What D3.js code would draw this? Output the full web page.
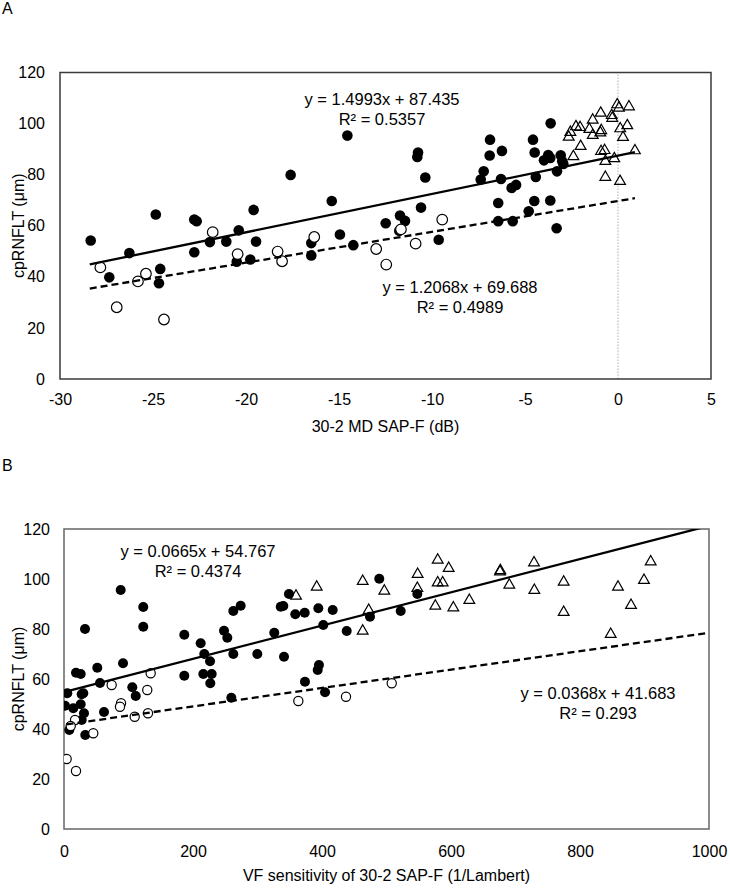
<!DOCTYPE html>
<html><head><meta charset="utf-8">
<script src="https://cdn.jsdelivr.net/npm/d3@7"></script>
<style>
body{margin:0;background:#fff;}
text{font-family:"Liberation Sans",Arial,sans-serif;fill:#000;}
</style></head>
<body>
<svg id="chart" width="730" height="888"></svg>
<script>
// ---------- Panel A data: x = 30-2 MD SAP-F (dB), y = cpRNFLT (µm)
const aFilled = [[-28.35,54.2],[-24.85,64.4],[-26.27,49.3],[-27.35,39.8],[-24.61,43.1],[-24.68,37.5],
[-22.78,62.4],[-22.65,61.8],[-22.78,49.6],[-21.94,53.6],[-21.06,53.8],[-20.39,58.2],[-19.59,66.2],
[-19.46,53.8],[-20.50,45.9],[-19.77,46.8],[-17.60,79.9],[-15.39,69.7],[-16.49,53.2],[-16.49,48.4],
[-14.95,56.6],[-14.23,52.4],[-12.49,61.0],[-11.72,64.0],[-11.45,61.9],[-11.76,58.0],[-10.59,67.1],
[-9.64,54.5],[-6.44,61.8],[-5.66,61.8],[-4.80,65.7],[-4.50,69.7],[-5.72,74.8],[-5.48,76.0],
[-10.36,78.9],[-14.55,95.3],[-10.75,88.7],[-10.79,86.9],[-6.88,93.7],[-6.90,87.5],[-6.24,89.3],
[-7.22,81.3],[-7.38,78.1],[-6.29,78.3],[-6.44,68.9],[-4.57,93.7],[-4.48,88.7],[-4.42,79.1],
[-3.62,100.1],[-3.75,87.7],[-3.64,86.5],[-3.98,85.6],[-3.08,87.6],[-3.00,85.3],[-2.94,84.2],
[-3.28,81.3],[-3.64,69.9],[-3.30,59.0]];
const aOpen = [[-27.83,43.7],[-26.95,28.1],[-25.81,38.2],[-25.38,41.2],[-24.41,23.3],[-21.79,57.5],
[-20.45,48.9],[-18.30,49.9],[-18.06,46.1],[-16.33,55.6],[-13.0,50.9],[-12.46,44.8],[-10.88,53.0],
[-9.45,62.4],[-11.67,58.6]];
const aTri = [[-0.04,107.8],[0.05,106.5],[0.59,107.0],[-0.93,104.5],[-0.34,103.6],[-0.31,102.5],
[-1.36,101.8],[-2.26,99.2],[-2.04,98.9],[-1.54,98.2],[-0.90,97.7],[0.12,98.4],[0.50,99.6],
[-2.56,97.0],[-2.65,95.1],[-1.36,95.8],[-0.95,96.8],[0.27,95.0],[-2.01,91.5],[-0.91,89.5],
[-0.72,89.9],[0.91,89.8],[-2.40,87.5],[-0.68,85.6],[-0.20,86.7],[-0.68,79.4],[0.11,77.8]];
const aFitSolid = {slope:1.4993, intercept:87.435, r2:"0.5357", x0:-28.4, x1:0.91};
const aFitDashed = {slope:1.2068, intercept:69.688, r2:"0.4989", x0:-28.4, x1:0.91};
const aXTicks = [-30,-25,-20,-15,-10,-5,0,5];
const aYTicks = [0,20,40,60,80,100,120];

// ---------- Panel B data: x = VF sensitivity (1/Lambert), y = cpRNFLT (µm)
const bFilled = [[87.9,95.6],[122.9,88.8],[122.9,80.9],[32.6,80.0],[186.5,77.7],[211.9,74.3],
[248.1,79.3],[253.2,76.5],[262.5,87.2],[273.9,89.3],[217.5,70.0],[226.4,67.1],[262.5,70.0],
[299.7,70.0],[326.0,78.5],[336.0,88.9],[340.0,89.2],[91.5,66.3],[51.6,64.5],[18.6,62.5],[25.9,62.0],
[186.5,61.3],[216.0,62.0],[229.0,62.0],[55.8,58.4],[105.9,56.7],[111.2,53.2],[226.8,58.3],[5.1,54.3],
[27.4,53.9],[29.9,54.3],[1.6,49.3],[14.4,48.3],[25.9,49.9],[31.0,46.3],[27.4,43.6],[62.0,46.8],
[8.2,39.6],[33.0,37.6],[259.4,52.5],[395.3,65.6],[393.3,63.6],[373.6,58.9],[404.7,54.7],[488.8,100.1],
[348.8,94.0],[358.6,85.9],[373.2,86.5],[394.3,88.3],[416.6,87.6],[402.0,81.6],[438.3,79.2],
[474.4,84.9],[522.0,87.2],[547.8,94.0],[341.1,68.9]];
const bOpen = [[134.4,62.3],[73.9,57.6],[129.1,55.6],[88.4,50.3],[86.8,48.9],[109.6,44.9],[130.2,46.3],
[17.1,43.6],[10.4,41.2],[45.4,38.3],[4.1,28.0],[18.6,23.2],[363.3,51.2],[437.2,52.9],[508.1,58.3]];
const bTri = [[359.7,93.6],[391.8,97.2],[463.1,99.5],[496.6,95.6],[472.4,87.9],[463.1,79.6],
[548.3,102.3],[547.8,96.7],[579.4,108.0],[596.4,104.7],[579.4,98.9],[587.1,98.9],[575.7,89.6],
[603.6,88.9],[628.4,91.9],[676.0,103.3],[676.5,103.8],[728.7,106.9],[690.4,98.0],[729.2,95.9],
[774.7,99.2],[774.7,87.1],[909.6,107.3],[899.2,99.9],[858.9,97.2],[879.1,89.9],[847.6,78.3]];
const bFitSolid = {slope:0.0665, intercept:54.767, r2:"0.4374", x0:4, x1:1000};
const bFitDashed = {slope:0.0368, intercept:41.683, r2:"0.293", x0:4, x1:1000};
const bXTicks = [0,200,400,600,800,1000];
const bYTicks = [0,20,40,60,80,100,120];

const svg = d3.select("#chart");
const FONT = 16;

function panel(cfg){
  const g = svg.append("g");
  const x = d3.scaleLinear().domain(cfg.xDomain).range(cfg.xRange);
  const y = d3.scaleLinear().domain([0,120]).range(cfg.yRange);
  const clipId = "clip" + cfg.name;
  g.append("clipPath").attr("id", clipId).append("rect")
    .attr("x", cfg.xRange[0]).attr("y", cfg.yRange[1])
    .attr("width", cfg.xRange[1]-cfg.xRange[0]).attr("height", cfg.yRange[0]-cfg.yRange[1]);

  if (cfg.zeroLine) {
    g.append("line").attr("x1", x(0)).attr("x2", x(0))
      .attr("y1", y(0)).attr("y2", y(120))
      .attr("stroke", "#b0b0b0").attr("stroke-width", 1).attr("stroke-dasharray", "1.5,1.5");
  }

  const xAxis = g.append("g").attr("transform", `translate(0,${cfg.yRange[0]})`)
    .call(d3.axisBottom(x).tickValues(cfg.xTicks).tickSize(0).tickPadding(cfg.xPad).tickFormat(d3.format("d")));
  const yAxis = g.append("g").attr("transform", `translate(${cfg.xRange[0]},0)`)
    .call(d3.axisLeft(y).tickValues(cfg.yTicks).tickSize(0).tickPadding(cfg.yPad).tickFormat(d3.format("d")));
  [xAxis, yAxis].forEach(a => {
    a.select(".domain").remove();
    a.selectAll("text").attr("font-size", FONT).attr("font-family", '"Liberation Sans",Arial,sans-serif').attr("fill", "#000");
  });
  xAxis.selectAll("text").text(d => d < 0 ? "-" + Math.abs(d) : d);

  g.append("rect").attr("x", cfg.xRange[0]).attr("y", cfg.yRange[1])
    .attr("width", cfg.xRange[1]-cfg.xRange[0]).attr("height", cfg.yRange[0]-cfg.yRange[1])
    .attr("fill", "none").attr("stroke", cfg.border).attr("stroke-width", 1.5);

  const pts = g.append("g").attr("clip-path", `url(#${clipId})`);
  pts.selectAll("circle.filled").data(cfg.filled).join("circle").attr("class","filled")
    .attr("cx", d => x(d[0])).attr("cy", d => y(d[1])).attr("r", cfg.rFilled).attr("fill", "#000");
  pts.selectAll("circle.open").data(cfg.open).join("circle").attr("class","open")
    .attr("cx", d => x(d[0])).attr("cy", d => y(d[1])).attr("r", cfg.rOpen)
    .attr("fill", "#fff").attr("stroke", "#000").attr("stroke-width", 1.2);
  const tri = d3.symbol().type(d3.symbolTriangle).size(50);
  pts.selectAll("path.tri").data(cfg.tri).join("path").attr("class","tri")
    .attr("d", tri).attr("transform", d => `translate(${x(d[0])},${y(d[1])+1})`)
    .attr("fill", "none").attr("stroke", "#000").attr("stroke-width", 1.2);

  const lines = g.append("g").attr("clip-path", `url(#${clipId})`);
  [[cfg.fitSolid, null], [cfg.fitDashed, "7,4"]].forEach(([f, dash]) => {
    const l = lines.append("line")
      .attr("x1", x(f.x0)).attr("y1", y(f.slope*f.x0 + f.intercept))
      .attr("x2", x(f.x1)).attr("y2", y(f.slope*f.x1 + f.intercept))
      .attr("stroke", "#000").attr("stroke-width", 2.3);
    if (dash) l.attr("stroke-dasharray", dash);
  });

  cfg.eq.forEach(e => {
    const t = g.append("text").attr("text-anchor", "middle").attr("font-size", 16.5);
    t.append("tspan").attr("x", e.cx).attr("y", e.cy)
      .text(`y = ${e.fit.slope.toFixed(4)}x + ${e.fit.intercept.toFixed(3)}`);
    t.append("tspan").attr("x", e.cx).attr("y", e.cy + 20).text(`R² = ${e.fit.r2}`);
  });

  g.append("text").attr("x", (cfg.xRange[0]+cfg.xRange[1])/2).attr("y", cfg.xTitleY)
    .attr("text-anchor", "middle").attr("font-size", FONT).text(cfg.xTitle);
  g.append("text").attr("transform", `translate(24,${(cfg.yRange[0]+cfg.yRange[1])/2}) rotate(-90)`)
    .attr("text-anchor", "middle").attr("font-size", FONT).text("cpRNFLT (μm)");
  g.append("text").attr("x", 2).attr("y", cfg.letterY).attr("font-size", FONT).text(cfg.name);
}

panel({name:"A", xDomain:[-30,5], xRange:[60,711], yRange:[379,72.5],
  xTicks:aXTicks, yTicks:aYTicks, xPad:15, yPad:15, border:"#3a3a3a", zeroLine:true,
  rFilled:5.3, rOpen:5.3,
  filled:aFilled, open:aOpen, tri:aTri, fitSolid:aFitSolid, fitDashed:aFitDashed,
  eq:[{fit:aFitSolid, cx:382, cy:105},{fit:aFitDashed, cx:460, cy:292.5}],
  xTitle:"30-2 MD SAP-F (dB)", xTitleY:432, letterY:14});

panel({name:"B", xDomain:[0,1000], xRange:[64,709], yRange:[829,529],
  xTicks:bXTicks, yTicks:bYTicks, xPad:17, yPad:14, border:"#666", zeroLine:false,
  rFilled:5.0, rOpen:4.6,
  filled:bFilled, open:bOpen, tri:bTri, fitSolid:bFitSolid, fitDashed:bFitDashed,
  eq:[{fit:bFitSolid, cx:198, cy:556.5},{fit:bFitDashed, cx:598, cy:699}],
  xTitle:"VF sensitivity of 30-2 SAP-F (1/Lambert)", xTitleY:881, letterY:471});
</script>
</body></html>
